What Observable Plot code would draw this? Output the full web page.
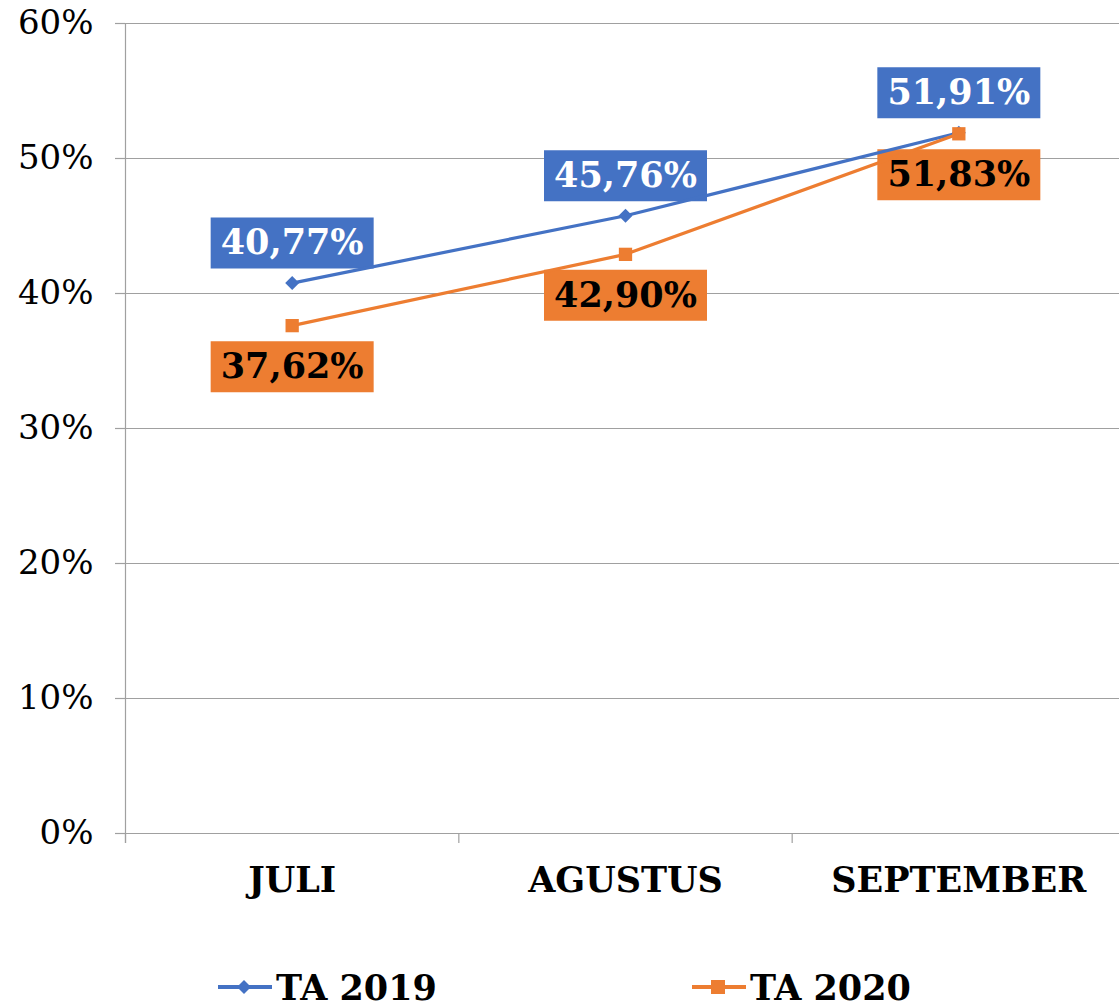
<!DOCTYPE html>
<html>
<head>
<meta charset="utf-8">
<script src="https://cdn.jsdelivr.net/npm/d3@7"></script>
<script src="https://cdn.jsdelivr.net/npm/@observablehq/plot@0.6"></script>
<style>
  html, body { margin: 0; padding: 0; background: #fff; overflow: hidden; }
  #chart svg { display: block; }
  #legend { position: relative; height: 68px; font-family: "DejaVu Serif", serif; font-weight: bold; font-size: 35px; color: #000; line-height: 1; }
  .item { position: absolute; top: 28px; display: flex; align-items: center; height: 38px; }
  .item span { margin-left: 4px; line-height: 1; }
</style>
</head>
<body>
<div id="chart"></div>
<div id="legend"></div>
<script>
const months = ["JULI", "AGUSTUS", "SEPTEMBER"];
const ta2019 = [0.4077, 0.4576, 0.5191];
const ta2020 = [0.3762, 0.4290, 0.5183];
const seriesNames = ["TA 2019", "TA 2020"];
const yTicks = [0, 0.1, 0.2, 0.3, 0.4, 0.5, 0.6];

const BLUE = "#4472C4", ORANGE = "#ED7D31", GRID = "#a0a0a0";
const locale = d3.formatLocale({decimal: ",", thousands: ".", grouping: [3], currency: ["", ""]});
const fmtLabel = locale.format(".2%");
const fmtTick = d3.format(".0%");

const rows2019 = months.map((m, i) => ({i, month: m, value: ta2019[i]}));
const rows2020 = months.map((m, i) => ({i, month: m, value: ta2020[i]}));

const boxSymbol = {draw(ctx) { ctx.rect(-81.5, -25.5, 163, 51); }};
const font = "DejaVu Serif";

const chart = Plot.plot({
  width: 1119,
  height: 940,
  marginLeft: 125,
  marginRight: 0,
  marginTop: 23,
  marginBottom: 107,
  style: {fontFamily: font, background: "#fff"},
  x: {type: "linear", domain: [-0.5, 2.5], range: [125, 1125]},
  y: {domain: [0, 0.6], range: [833, 23]},
  marks: [
    Plot.gridY(yTicks, {stroke: GRID, strokeOpacity: 1, strokeWidth: 1.2}),
    Plot.axisY(yTicks, {tickSize: 10, tickPadding: 22, stroke: GRID, strokeOpacity: 1, strokeWidth: 1.2,
      tickFormat: fmtTick, fontSize: 34, fontFamily: font, fill: "#000", label: null}),
    Plot.ruleX([-0.5], {y1: 0.6, y2: 0, insetBottom: -10, stroke: GRID, strokeWidth: 1.2}),
    Plot.axisX([-0.5, 0.5, 1.5, 2.5], {tickSize: 10, tickFormat: () => "", stroke: GRID, strokeOpacity: 1, strokeWidth: 1.2, label: null}),
    Plot.ruleY([0], {stroke: GRID, strokeWidth: 1.2}),
    Plot.axisX([0, 1, 2], {tickSize: 0, tickPadding: 34, tickFormat: i => months[i], fontSize: 35,
      fontWeight: "bold", fontFamily: font, fill: "#000", label: null}),
    // label boxes
    Plot.dot(rows2019, {x: "i", y: "value", dy: -40, symbol: boxSymbol, r: 10, fill: BLUE, stroke: null}),
    Plot.dot(rows2020, {x: "i", y: "value", dy: 41, symbol: boxSymbol, r: 10, fill: ORANGE, stroke: null}),
    // lines
    Plot.line(rows2019, {x: "i", y: "value", stroke: BLUE, strokeWidth: 3.2}),
    Plot.line(rows2020, {x: "i", y: "value", stroke: ORANGE, strokeWidth: 3.2}),
    Plot.dot(rows2019, {x: "i", y: "value", symbol: "diamond2", r: 6.3, fill: BLUE, stroke: null}),
    Plot.dot(rows2020, {x: "i", y: "value", symbol: "square", r: 7.5, fill: ORANGE, stroke: null}),
    // label texts
    Plot.text(rows2019, {x: "i", y: "value", dy: -40, text: d => fmtLabel(d.value), fill: "#fff",
      fontSize: 35, fontWeight: "bold", fontFamily: font}),
    Plot.text(rows2020, {x: "i", y: "value", dy: 41, text: d => fmtLabel(d.value), fill: "#000",
      fontSize: 35, fontWeight: "bold", fontFamily: font})
  ]
});
document.getElementById("chart").appendChild(chart);

// legend
const legend = document.getElementById("legend");
const items = [
  {name: seriesNames[0], color: BLUE, left: 218, marker: "diamond"},
  {name: seriesNames[1], color: ORANGE, left: 692, marker: "square"}
];
for (const it of items) {
  const div = document.createElement("div");
  div.className = "item";
  div.style.left = it.left + "px";
  const markerSvg = it.marker === "diamond"
    ? `<path d="M26,3 L33,10 L26,17 L19,10 Z" fill="${it.color}"/>`
    : `<rect x="19" y="3" width="14" height="14" fill="${it.color}"/>`;
  div.innerHTML = `<svg width="54" height="20"><line x1="0" x2="54" y1="10" y2="10" stroke="${it.color}" stroke-width="4"/>${markerSvg}</svg><span>${it.name}</span>`;
  legend.appendChild(div);
}
</script>
</body>
</html>
